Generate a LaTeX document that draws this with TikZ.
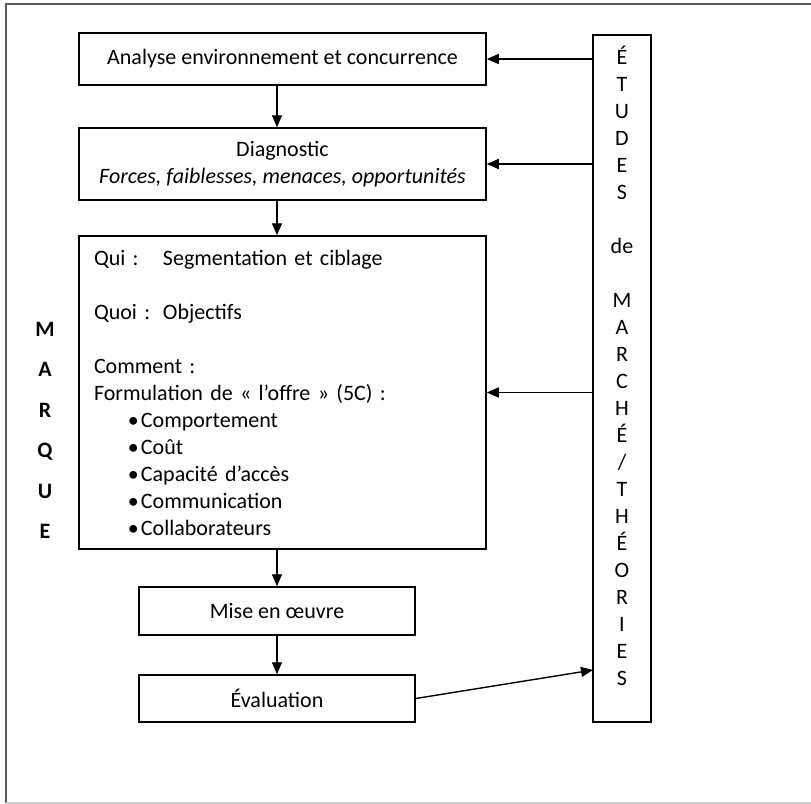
\documentclass[tikz,border=0pt]{standalone}
\usepackage{fontspec}
\setmainfont{Carlito}
\usepackage{tikz}
\usetikzlibrary{arrows.meta,positioning,calc}

\begin{document}
\begin{tikzpicture}[x=0.5pt,y=-0.5pt,>={Triangle[length=6pt,width=5pt]},
  boite/.style={draw,line width=0.75pt,inner sep=0pt,align=center,font=\fontsize{11}{13.5}\selectfont},
  fleche/.style={->,line width=0.7pt}]
\useasboundingbox (0,0) rectangle (811,804);
% cadre
\draw[line width=1pt,black!65] (811,4) -- (6,4) -- (6,803);
\draw[line width=0.8pt,black!18] (6,803) -- (811,803);
% etapes
\node[boite,minimum width=203.5pt,minimum height=26pt] (analyse) at (282.5,59) {Analyse environnement et concurrence};
\node[boite,minimum width=203.5pt,minimum height=36pt] (diag) at (282.5,164) {Diagnostic\\\textit{Forces, faiblesses, menaces, opportunités}};
\node[boite,minimum width=203.5pt,minimum height=156.5pt,text width=188.5pt,inner xsep=7.5pt,align=left] (cible) at (282.5,392.5) {%
\makebox[34.5pt][l]{Qui :}Segmentation et ciblage\\[13.5pt]
\makebox[34.5pt][l]{Quoi :}Objectifs\\[13.5pt]
Comment :\\
Formulation de «~l’offre~» (5C) :\\
\hspace*{17pt}\makebox[6.5pt][l]{\textbullet}Comportement\\
\hspace*{17pt}\makebox[6.5pt][l]{\textbullet}Coût\\
\hspace*{17pt}\makebox[6.5pt][l]{\textbullet}Capacité d’accès\\
\hspace*{17pt}\makebox[6.5pt][l]{\textbullet}Communication\\
\hspace*{17pt}\makebox[6.5pt][l]{\textbullet}Collaborateurs};
\node[boite,minimum width=138pt,minimum height=24pt] (mise) at (277,611) {Mise en œuvre};
\node[boite,minimum width=138pt,minimum height=23.5pt] (evaluation) at (277,698.5) {Évaluation};
% etudes
\node[draw,line width=0.75pt,minimum width=29pt,minimum height=343.5pt,inner sep=0pt] (etudes) at (622,378.5) {};
\node[align=center,inner sep=0pt,font=\fontsize{11}{13.5}\selectfont] (etudestxt) at (622,366) {É\\T\\U\\D\\E\\S\\[13.5pt]de\\[13.5pt]M\\A\\R\\C\\H\\É\\/\\T\\H\\É\\O\\R\\I\\E\\S};
\node[align=center,inner sep=0pt,font=\fontsize{11}{20.25}\selectfont\bfseries] (marque) at (45,430.5) {M\\A\\R\\Q\\U\\E};
\coordinate (retour) at (593,670);
% fleches
\draw[fleche] (analyse.south -| mise) -- (diag.north -| mise);
\draw[fleche] (diag.south -| mise) -- (cible.north -| mise);
\draw[fleche] (cible.south -| mise) -- (mise.north);
\draw[fleche] (mise) -- (evaluation);
\draw[fleche] (etudes.west |- analyse) -- (analyse.east);
\draw[fleche] (etudes.west |- diag) -- (diag.east);
\draw[fleche] (etudes.west |- cible) -- (cible.east);
\draw[fleche] (evaluation.east) -- (retour);
\end{tikzpicture}
\end{document}
